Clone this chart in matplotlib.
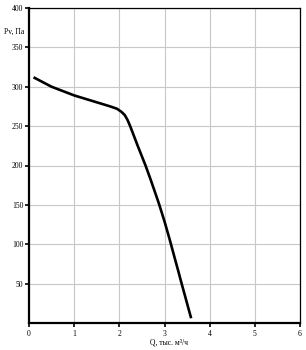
import matplotlib
matplotlib.use("Agg")
import matplotlib.pyplot as plt

# curve
q = [0.1, 0.5, 1.0, 1.4, 1.8, 1.95, 2.05, 2.12, 2.18, 2.24, 2.3, 2.4, 2.58, 2.7, 2.88,
     3.0, 3.11, 3.2, 3.3, 3.37, 3.59]
pv = [312, 300, 289, 282, 275, 272, 268, 264, 258, 250, 241, 226, 200, 181, 151,
      129, 107, 88, 67, 52, 6]

x_ticks = [0, 1, 2, 3, 4, 5, 6]
y_ticks = [50, 100, 150, 200, 250, 300, 350, 400]

plt.rcParams['font.family'] = ['Liberation Serif', 'DejaVu Serif']

fig = plt.figure(figsize=(3.06, 3.5), dpi=100)
ax = fig.add_axes([29 / 306, 27 / 350, 271 / 306, 315 / 350])

ax.plot(q, pv, color='black', lw=1.9, solid_joinstyle='round', solid_capstyle='butt')

ax.set_xlim(0, 6)
ax.set_ylim(0, 400)
ax.set_xticks(x_ticks)
ax.set_yticks(y_ticks)
ax.grid(True, color='#c8c8c8', lw=0.8)
ax.set_axisbelow(True)

for s in ['top', 'right']:
    ax.spines[s].set_linewidth(0.9)
for s in ['left', 'bottom']:
    ax.spines[s].set_linewidth(1.6)

ax.tick_params(axis='both', direction='out', length=3, width=1.2,
               labelsize=5.5, pad=1)
ax.tick_params(axis='x', pad=2)

fig.text(4 / 306, 1 - 32 / 350, 'Pv, Па', fontsize=5.5, va='center', ha='left')
fig.text(150 / 306, 1 - 343 / 350, 'Q, тыс. м³/ч', fontsize=5.5, va='center', ha='left')

fig.savefig('out.png', dpi=100)
